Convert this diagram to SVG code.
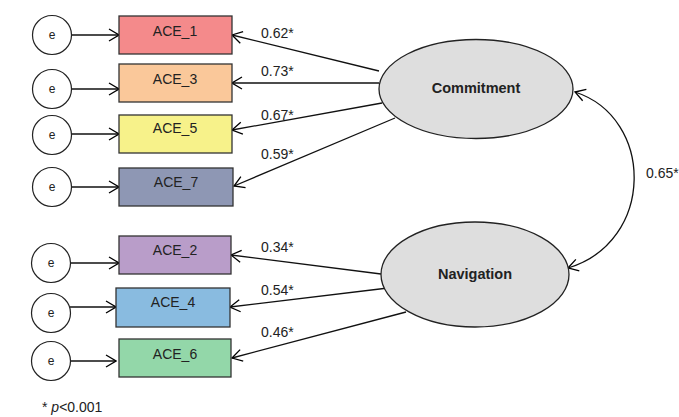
<svg xmlns="http://www.w3.org/2000/svg" width="679" height="417" viewBox="0 0 679 417">
<defs>
<marker id="ah" markerWidth="12" markerHeight="14" refX="11" refY="7" orient="auto-start-reverse" markerUnits="userSpaceOnUse">
<path d="M1,1 L11,7 L1,13" fill="none" stroke="#000" stroke-width="1.3"/>
</marker>
<style>
.box{stroke:#333;stroke-width:1.3}
.err{fill:#fff;stroke:#222;stroke-width:1.2}
.lbl{font-family:"Liberation Sans",Arial,sans-serif;font-size:14px;fill:#222;text-anchor:middle}
.e{font-family:"Liberation Sans",Arial,sans-serif;font-size:12px;fill:#222;text-anchor:middle}
.lat{fill:#dedede;stroke:#222;stroke-width:1.3}
.latl{font-family:"Liberation Sans",Arial,sans-serif;font-size:14.5px;font-weight:bold;fill:#222;text-anchor:middle}
.num{font-family:"Liberation Sans",Arial,sans-serif;font-size:14px;fill:#222}
.c{stroke:#111;stroke-width:1.3;fill:none;marker-end:url(#ah)}
</style>
</defs>
<rect width="679" height="417" fill="#fff"/>
<g id="connectors">
<line class="c" x1="71" y1="35" x2="119" y2="35"/>
<line class="c" x1="71" y1="89" x2="119" y2="89"/>
<line class="c" x1="71" y1="134" x2="119" y2="134"/>
<line class="c" x1="71" y1="187" x2="119" y2="187"/>
<line class="c" x1="70" y1="263" x2="119" y2="263"/>
<line class="c" x1="70" y1="307" x2="116" y2="307"/>
<line class="c" x1="70" y1="361" x2="116" y2="361"/>
<line class="c" x1="379" y1="71" x2="232" y2="35"/>
<line class="c" x1="379" y1="83" x2="232" y2="83"/>
<line class="c" x1="382" y1="103" x2="232" y2="130"/>
<line class="c" x1="395" y1="118" x2="234" y2="186"/>
<line class="c" x1="381" y1="274" x2="231" y2="255"/>
<line class="c" x1="388" y1="288" x2="230" y2="307"/>
<line class="c" x1="406" y1="312" x2="232" y2="358"/>
<path class="c" style="marker-start:url(#ah)" d="M575,92 C655,118 655,242 568,268"/>
<text class="num" x="646" y="178">0.65*</text>
<text class="num" x="261" y="38">0.62*</text>
<text class="num" x="261" y="76">0.73*</text>
<text class="num" x="261" y="120">0.67*</text>
<text class="num" x="261" y="159">0.59*</text>
<text class="num" x="261" y="252">0.34*</text>
<text class="num" x="261" y="295">0.54*</text>
<text class="num" x="261" y="337">0.46*</text>
</g>
<g id="e1"><circle class="err" cx="52" cy="35" r="19.5"/><text class="e" x="52" y="39">e</text></g>
<g id="e3"><circle class="err" cx="52" cy="89" r="19.5"/><text class="e" x="52" y="93">e</text></g>
<g id="e5"><circle class="err" cx="52" cy="135" r="19.5"/><text class="e" x="52" y="139">e</text></g>
<g id="e7"><circle class="err" cx="52" cy="187" r="19.5"/><text class="e" x="52" y="191">e</text></g>
<g id="e2"><circle class="err" cx="51" cy="263" r="19.5"/><text class="e" x="51" y="267">e</text></g>
<g id="e4"><circle class="err" cx="51" cy="313" r="19.5"/><text class="e" x="51" y="317">e</text></g>
<g id="e6"><circle class="err" cx="51" cy="361" r="19.5"/><text class="e" x="51" y="365">e</text></g>
<g id="ACE_1"><rect class="box" x="119" y="16" width="113" height="38" fill="#f48a8b"/><text class="lbl" x="175" y="36">ACE_1</text></g>
<g id="ACE_3"><rect class="box" x="119" y="64" width="113" height="38" fill="#fac89a"/><text class="lbl" x="175" y="84">ACE_3</text></g>
<g id="ACE_5"><rect class="box" x="119" y="115" width="113" height="38" fill="#f7f28a"/><text class="lbl" x="175" y="133">ACE_5</text></g>
<g id="ACE_7"><rect class="box" x="119" y="168" width="114" height="38" fill="#8e97b4"/><text class="lbl" x="176" y="187">ACE_7</text></g>
<g id="ACE_2"><rect class="box" x="119" y="236" width="112" height="38" fill="#b99dc9"/><text class="lbl" x="175" y="255">ACE_2</text></g>
<g id="ACE_4"><rect class="box" x="116" y="288" width="114" height="39" fill="#89bbe0"/><text class="lbl" x="173" y="307">ACE_4</text></g>
<g id="ACE_6"><rect class="box" x="119" y="339" width="112" height="38" fill="#93d7a9"/><text class="lbl" x="175" y="359">ACE_6</text></g>
<g id="Commitment"><ellipse class="lat" cx="476" cy="89" rx="97" ry="49.5"/><text class="latl" x="476" y="93">Commitment</text></g>
<g id="Navigation"><ellipse class="lat" cx="475" cy="274.5" rx="94" ry="52.5"/><text class="latl" x="475" y="279">Navigation</text></g>
<text class="num" x="42" y="412">* <tspan font-style="italic">p</tspan>&lt;0.001</text>
</svg>
